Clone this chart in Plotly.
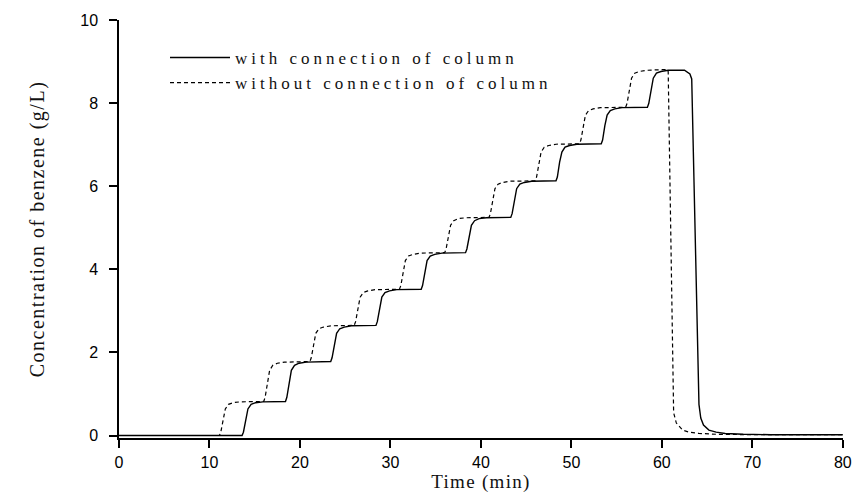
import plotly.graph_objects as go

# Time (min) and concentration (g/L)
t_with = [0, 13.6, 13.75, 14.0, 14.25, 14.6, 15.1, 15.9,
          18.4, 18.55, 18.8, 19.05, 19.4, 19.9, 20.7,
          23.4, 23.55, 23.8, 24.05, 24.4, 24.9, 25.7,
          28.4, 28.55, 28.8, 29.05, 29.4, 29.9, 30.7,
          33.4, 33.55, 33.8, 34.05, 34.4, 34.9, 35.7,
          38.3, 38.45, 38.7, 38.95, 39.3, 39.8, 40.6,
          43.3, 43.45, 43.7, 43.95, 44.3, 44.8, 45.6,
          48.3, 48.45, 48.7, 48.95, 49.3, 49.8, 50.6,
          53.3, 53.45, 53.7, 53.95, 54.3, 54.8, 55.6,
          58.4, 58.55, 58.8, 59.05, 59.4, 59.9, 60.7,
          62.0, 62.5, 63.1, 63.3, 64.1, 64.3, 64.6, 65.2, 66.0, 67.0, 69.0, 72.0, 80.0]
c_with = [0, 0, 0.08, 0.41, 0.64, 0.75, 0.79, 0.81,
          0.82, 0.92, 1.30, 1.57, 1.69, 1.74, 1.765,
          1.78, 1.87, 2.22, 2.46, 2.57, 2.61, 2.64,
          2.65, 2.74, 3.09, 3.33, 3.44, 3.48, 3.51,
          3.52, 3.61, 3.96, 4.21, 4.32, 4.36, 4.39,
          4.40, 4.49, 4.83, 5.06, 5.17, 5.22, 5.24,
          5.25, 5.34, 5.69, 5.94, 6.05, 6.09, 6.12,
          6.13, 6.22, 6.58, 6.82, 6.94, 6.98, 7.01,
          7.02, 7.11, 7.46, 7.71, 7.82, 7.86, 7.89,
          7.90, 7.99, 8.35, 8.60, 8.72, 8.76, 8.79,
          8.80, 8.79, 8.70, 8.58, 0.75, 0.42, 0.25, 0.13, 0.08, 0.05, 0.03, 0.02, 0.02]

t_without = [0, 11.1, 11.25, 11.5, 11.75, 12.1, 12.6, 13.4,
             16.0, 16.15, 16.4, 16.65, 17.0, 17.5, 18.3,
             21.1, 21.25, 21.5, 21.75, 22.1, 22.6, 23.4,
             26.0, 26.15, 26.4, 26.65, 27.0, 27.5, 28.3,
             31.0, 31.15, 31.4, 31.65, 32.0, 32.5, 33.3,
             36.0, 36.15, 36.4, 36.65, 37.0, 37.5, 38.3,
             40.9, 41.05, 41.3, 41.55, 41.9, 42.4, 43.2,
             46.0, 46.15, 46.4, 46.65, 47.0, 47.5, 48.3,
             50.9, 51.05, 51.3, 51.55, 51.9, 52.4, 53.2,
             56.0, 56.15, 56.4, 56.65, 57.0, 57.5, 58.3,
             60.6, 60.7, 61.3, 61.6, 62.3, 63.0, 64.1, 66.0, 70.0, 80.0]
c_without = [0, 0, 0.08, 0.41, 0.64, 0.75, 0.79, 0.81,
             0.82, 0.92, 1.30, 1.57, 1.69, 1.74, 1.765,
             1.78, 1.87, 2.22, 2.46, 2.57, 2.61, 2.64,
             2.65, 2.74, 3.09, 3.33, 3.44, 3.48, 3.51,
             3.52, 3.61, 3.96, 4.21, 4.32, 4.36, 4.39,
             4.40, 4.49, 4.83, 5.06, 5.17, 5.22, 5.24,
             5.25, 5.34, 5.69, 5.94, 6.05, 6.09, 6.12,
             6.13, 6.22, 6.58, 6.82, 6.94, 6.98, 7.01,
             7.02, 7.11, 7.46, 7.71, 7.82, 7.86, 7.89,
             7.90, 7.99, 8.35, 8.60, 8.72, 8.76, 8.79,
             8.81, 8.76, 0.55, 0.30, 0.13, 0.08, 0.05, 0.03, 0.02, 0.02]

x_ticks = [0, 10, 20, 30, 40, 50, 60, 70, 80]
y_ticks = [0, 2, 4, 6, 8, 10]

fig = go.Figure()
fig.add_trace(go.Scatter(x=t_with, y=c_with, mode="lines",
                         name="with connection of column",
                         line=dict(color="black", width=1.4)))
fig.add_trace(go.Scatter(x=t_without, y=c_without, mode="lines",
                         name="without connection of column",
                         line=dict(color="black", width=1.2, dash="4px,3px")))

serif = "Liberation Serif, Times New Roman, serif"
sans = "Liberation Sans, Arial, sans-serif"

fig.update_layout(
    width=854, height=500,
    margin=dict(l=119, r=11, t=20, b=62, autoexpand=False),
    plot_bgcolor="white", paper_bgcolor="white",
    showlegend=True,
    legend=dict(x=(165 - 119) / 724, y=1 - (40 - 20) / 418.5, xanchor="left", yanchor="top",
                font=dict(family=serif, size=17, color="#111"),
                itemwidth=60,
                bgcolor="rgba(0,0,0,0)", borderwidth=0, tracegroupgap=0),
    xaxis=dict(range=[0, 80.02], tickvals=x_ticks, ticktext=[str(v) for v in x_ticks],
               showline=True, linecolor="black", linewidth=1.5,
               ticks="outside", ticklen=8, tickwidth=1.5, tickcolor="black",
               showgrid=False, zeroline=False, ticklabeloverflow="allow", automargin=False,
               tickfont=dict(family=sans, size=16, color="black"),
               ticklabelstandoff=1,
               title=dict(text="Time (min)", font=dict(family=serif, size=19, color="#111"),
                          standoff=4)),
    yaxis=dict(range=[-0.06, 10], tickvals=y_ticks, ticktext=[str(v) for v in y_ticks],
               showline=True, linecolor="black", linewidth=1.5,
               ticks="outside", ticklen=8, tickwidth=1.5, tickcolor="black",
               showgrid=False, zeroline=False, automargin=False,
               tickfont=dict(family=sans, size=16, color="black"),
               ticklabelstandoff=8,
               title=dict(text="Concentration of benzene (g/L)",
                          font=dict(family=serif, size=20, color="#111"), standoff=30)),
)

post = """
var gd = document.getElementById('{plot_id}');
function spacing(){
  gd.querySelectorAll('.legendtext').forEach(function(e){ e.style.letterSpacing = '4px'; });
  gd.querySelectorAll('.legend [clip-path]').forEach(function(e){ e.removeAttribute('clip-path'); });
  var xt = gd.querySelector('.xtitle'); if (xt) { xt.style.letterSpacing = '1.3px'; }
  var yt = gd.querySelector('.ytitle'); if (yt) { yt.style.letterSpacing = '1.5px'; }
}
spacing();
gd.on('plotly_afterplot', spacing);
"""

fig.write_html("out.html", post_script=post)
